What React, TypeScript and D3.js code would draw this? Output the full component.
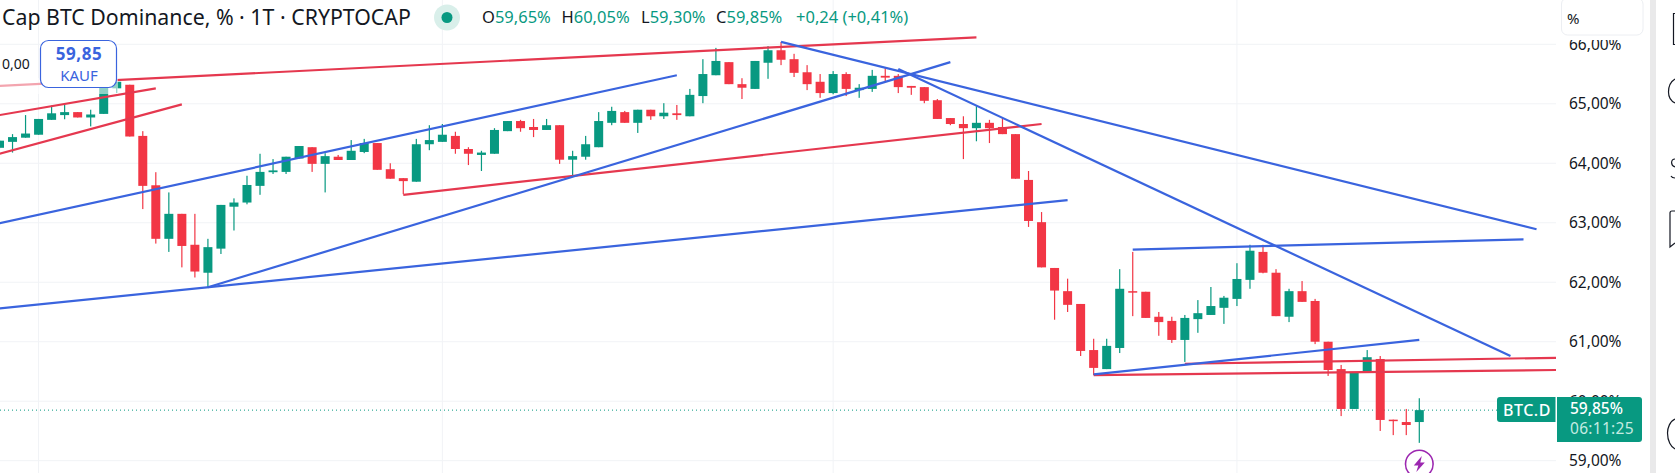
import * as React from "react";
import * as d3 from "d3";

const W = 1675;
const H = 473;

// daily candles, oldest first
const opens = [64.26,64.36,64.43,64.48,64.73,64.81,64.86,64.77,64.83,65.26,65.32,64.46,63.63,62.73,63.15,62.63,62.16,62.565,63.27,63.34,63.62,63.85,63.855,64.08,64.27,63.99,64.11,64.055,64.19,64.34,63.9,63.75,63.69,64.32,64.36,64.46,64.24,64.14,64.16,64.54,64.71,64.61,64.56,64.64,64.06,64.11,64.27,64.68,64.86,64.68,64.9,64.79,64.84,64.79,65.13,65.48,65.7,65.33,65.25,65.69,65.9,65.75,65.53,65.37,65.18,65.5,65.23,65.25,65.47,65.47,65.3,65.28,65.06,64.76,64.66,64.59,64.68,64.61,64.49,63.72,63.01,62.24,61.85,61.635,60.86,60.54,60.895,61.85,61.84,61.42,61.35,61.03,61.38,61.45,61.57,61.72,62.04,62.51,62.16,61.42,61.85,61.685,61.0,60.54,59.87,60.475,60.71,59.69,59.65,59.65];
const highs = [64.39,64.49,64.81,64.745,64.97,64.99,64.86,64.9,65.34,65.37,65.32,64.54,63.85,63.51,63.15,63.15,62.73,63.3,63.41,63.79,64.16,64.07,64.11,64.29,64.27,64.17,64.14,64.39,64.41,64.34,64.0,63.75,64.41,64.64,64.66,64.53,64.27,64.21,64.59,64.71,64.73,64.745,64.745,64.64,64.21,64.46,64.86,64.95,64.88,64.9,64.9,65.01,64.98,65.25,65.75,65.94,65.7,65.43,65.72,65.97,66.04,65.84,65.65,65.5,65.55,65.53,65.33,65.57,65.6,65.5,65.3,65.28,65.08,64.76,64.79,64.96,64.73,64.76,64.49,63.87,63.18,62.24,62.06,61.635,61.05,61.05,62.22,62.51,61.84,61.5,61.42,61.45,61.7,61.92,61.77,62.32,62.63,62.63,62.22,61.89,62.02,61.72,61.0,60.61,60.49,60.86,60.76,59.69,59.87,60.05];
const lows = [64.25,64.18,64.43,64.48,64.73,64.74,64.77,64.62,64.83,65.18,64.45,63.23,62.65,62.51,62.25,62.08,61.915,62.475,62.87,63.31,63.47,63.82,63.82,64.08,63.855,63.51,64.055,64.055,64.17,63.89,63.74,63.48,63.69,64.22,64.36,64.16,63.97,63.87,64.16,64.54,64.53,64.44,64.56,63.99,63.79,64.06,64.27,64.64,64.68,64.51,64.73,64.745,64.73,64.79,65.01,65.48,65.33,65.08,65.25,65.42,65.65,65.45,65.23,65.1,65.16,65.13,65.1,65.2,65.37,65.18,65.15,65.01,64.745,64.64,64.07,64.37,64.34,64.49,63.74,62.93,62.25,61.37,61.5,60.76,60.44,60.54,60.81,61.43,61.4,61.1,60.98,60.66,61.15,61.45,61.3,61.6,61.89,62.15,61.43,61.33,61.67,60.96,60.425,59.75,59.87,60.475,59.5,59.43,59.43,59.3];
const closes = [64.38,64.44,64.5,64.745,64.84,64.86,64.77,64.82,65.3,65.37,64.45,63.62,62.73,63.15,62.61,62.18,62.59,63.3,63.34,63.635,63.855,63.88,64.11,64.29,63.99,64.12,64.055,64.21,64.34,63.89,63.74,63.7,64.32,64.39,64.48,64.24,64.16,64.18,64.56,64.71,64.59,64.56,64.64,64.06,64.12,64.32,64.71,64.88,64.68,64.9,64.79,64.85,64.81,65.15,65.5,65.72,65.33,65.27,65.72,65.9,65.74,65.52,65.33,65.18,65.5,65.25,65.27,65.47,65.44,65.28,65.27,65.05,64.745,64.66,64.59,64.68,64.59,64.49,63.74,63.03,62.25,61.86,61.62,60.845,60.56,60.93,61.89,61.825,61.4,61.33,61.03,61.4,61.48,61.6,61.74,62.055,62.53,62.16,61.43,61.85,61.67,61.0,60.525,59.87,60.49,60.74,59.685,59.67,59.6,59.85];

const priceTicks = [66, 65, 64, 63, 62, 61, 60, 59];
const timeGridBars = [3, 34, 64, 95];

const lastPrice = 59.85;
const priceLabel = "59,85%";
const countdown = "06:11:25";

const legendTitle = "Cap BTC Dominance, % · 1T · CRYPTOCAP";
const legendValues = [
  { key: "O", value: "59,65%", x: 482 },
  { key: "H", value: "60,05%", x: 561.5 },
  { key: "L", value: "59,30%", x: 641 },
  { key: "C", value: "59,85%", x: 716 },
];
const legendChange = "+0,24 (+0,41%)";

// trendlines as [bar, price] pairs
const blueLines: [number, number][][] = [
  [[0, 62.99], [52, 65.48]],
  [[16, 61.915], [73, 65.7]],
  [[0, 61.56], [82, 63.38]],
  [[60, 66.04], [118, 62.89]],
  [[69, 65.585], [116, 60.76]],
  [[87, 62.55], [117, 62.72]],
  [[84, 60.45], [109, 61.03]],
];
const redLines: [number, number][][] = [
  [[0, 65.3], [75, 66.118]],
  [[0, 64.81], [12, 65.26]],
  [[0, 64.16], [14, 64.99]],
  [[31, 63.47], [80, 64.66]],
  [[91, 60.63], [119.5, 60.73]],
  [[84, 60.44], [119.5, 60.525]],
];

const UP = "#089981";
const DOWN = "#f23645";
const BLUE = "#3a64de";
const RED = "#e5384f";
const GRID = "#f1f3f6";
const FONT = "'Noto Sans', sans-serif";

const x = d3.scaleLinear().domain([0, 109]).range([-0.5, 1419.3]);
const y = d3.scaleLinear().domain([66, 59]).range([44.3, 460.7]);
const fmt = (v: number) => v.toFixed(2).replace(".", ",") + "%";

const linePath = d3
  .line<[number, number]>()
  .x((d) => x(d[0]))
  .y((d) => y(d[1]));

export default function App() {
  React.useEffect(() => {
    document.body.style.margin = "0";
    document.body.style.background = "#fff";
  }, []);

  return (
    <svg width={W} height={H} style={{ display: "block", fontFamily: FONT }}>
      <defs>
        <clipPath id="pane">
          <rect x={0} y={0} width={1556} height={H} />
        </clipPath>
      </defs>
      <rect width={W} height={H} fill="#fff" />

      <g className="grid">
        {priceTicks.map((t) => (
          <line key={t} x1={0} x2={1556} y1={y(t)} y2={y(t)} stroke={GRID} />
        ))}
        {timeGridBars.map((b) => (
          <line key={b} x1={x(b)} x2={x(b)} y1={0} y2={H} stroke={GRID} />
        ))}
      </g>

      <line
        x1={0}
        x2={1497}
        y1={y(lastPrice)}
        y2={y(lastPrice)}
        stroke={UP}
        strokeWidth={1}
        strokeDasharray="1 3"
      />

      <g className="candles" clipPath="url(#pane)">
        {opens.map((o, i) => {
          const c = closes[i];
          const color = c >= o ? UP : DOWN;
          const top = y(Math.max(o, c));
          const bottom = y(Math.min(o, c));
          return (
            <g key={i} fill={color}>
              <rect x={x(i) - 0.6} width={1.2} y={y(highs[i])} height={y(lows[i]) - y(highs[i])} />
              <rect x={x(i) - 4.5} width={9} y={top} height={Math.max(bottom - top, 1.5)} />
            </g>
          );
        })}
      </g>

      <g className="trendlines" clipPath="url(#pane)" fill="none" strokeWidth={2.2}>
        {redLines.map((l, i) => (
          <path key={i} d={linePath(l) as string} stroke={RED} />
        ))}
        {blueLines.map((l, i) => (
          <path key={i} d={linePath(l) as string} stroke={BLUE} />
        ))}
      </g>

      {/* fade under the order label */}
      <rect x={0} y={78} width={118} height={16} fill="#fff" opacity={0.55} />
      <text x={2} y={69} fontSize={14} fill="#131722">0,00</text>
      <rect x={40.5} y={40.5} width={76} height={47} rx={8} fill="#fff" stroke={BLUE} strokeWidth={1.2} />
      <text x={79} y={60} textAnchor="middle" fontSize={17} fontWeight={700} fill={BLUE} letterSpacing={0.6}>59,85</text>
      <text x={79} y={81} textAnchor="middle" fontSize={15} fill={BLUE}>KAUF</text>

      {/* alert marker */}
      <g transform={`translate(${x(109)},464)`}>
        <circle r={13.8} fill="#fff" stroke="#9c27b0" strokeWidth={1.6} />
        <path d="M2.5-8 L-5.5 1.5 L-1 1.5 L-3 8 L5.5-1.5 L1-1.5 Z" fill="#9c27b0" />
      </g>

      <g className="legend">
        <text x={2} y={25} fontSize={21.3} fill="#131722">{legendTitle}</text>
        <circle cx={447} cy={17.5} r={13} fill="#d9efea" />
        <circle cx={447} cy={17.5} r={5.5} fill={UP} />
        {legendValues.map((d) => (
          <text key={d.key} x={d.x} y={22.5} fontSize={16.5}>
            <tspan fill="#131722">{d.key}</tspan>
            <tspan fill={UP}>{d.value}</tspan>
          </text>
        ))}
        <text x={796} y={22.5} fontSize={16.5} fill={UP}>{legendChange}</text>
      </g>

      <g className="y-axis">
        {priceTicks.map((t) => (
          <text key={t} x={1569} y={y(t) + 5.5} fontSize={15.5} fill="#131722">{fmt(t)}</text>
        ))}
      </g>

      {/* the % box hides the top of the first tick label, as in the reference */}
      <rect x={1558} y={0} width={90} height={40} fill="#fff" />
      <rect x={1561.5} y={-2} width={81.5} height={37} rx={6} fill="#fff" stroke="#eceef2" />
      <text x={1567} y={24} fontSize={15} fill="#131722">%</text>

      <g className="last-price">
        <path d="M1497 400 a3 3 0 0 1 3-3 H1555.5 V422 H1500 a3 3 0 0 1-3-3 Z" fill={UP} />
        <text x={1503} y={415.5} fontSize={16} fontWeight={500} fill="#fff" letterSpacing={0.5}>BTC.D</text>
        <path d="M1557 397 H1639 a3 3 0 0 1 3 3 V439 a3 3 0 0 1-3 3 H1557 Z" fill={UP} />
        <text x={1570} y={414} fontSize={15.5} fontWeight={500} fill="#fff">{priceLabel}</text>
        <text x={1570} y={434} fontSize={15.5} fill="#c4ebe1" letterSpacing={0.3}>{countdown}</text>
      </g>

      <rect x={1650} y={0} width={6} height={H} fill="#e9e9ea" />
      <rect x={1656} y={0} width={19} height={H} fill="#fff" />
      <g className="toolbar-icons" fill="none" stroke="#131722" strokeWidth={1.2}>
        <path d="M1675 13.5 H1673.5 V44.5 H1675" />
        <path d="M1675 79 C1670 82 1668.5 87 1668.5 92 C1668.5 97 1671 101 1675 103" />
        <path d="M1675 159 C1671 159 1670 165 1675 167 M1671 176 C1672 178 1674 178 1675 178" />
        <path d="M1675 211 H1672 Q1670 211 1670 213 V247 L1675 243" />
        <path d="M1675 419 C1670 421 1667.5 428 1667.5 433 C1667.5 441 1671 447 1675 449" />
      </g>
    </svg>
  );
}
